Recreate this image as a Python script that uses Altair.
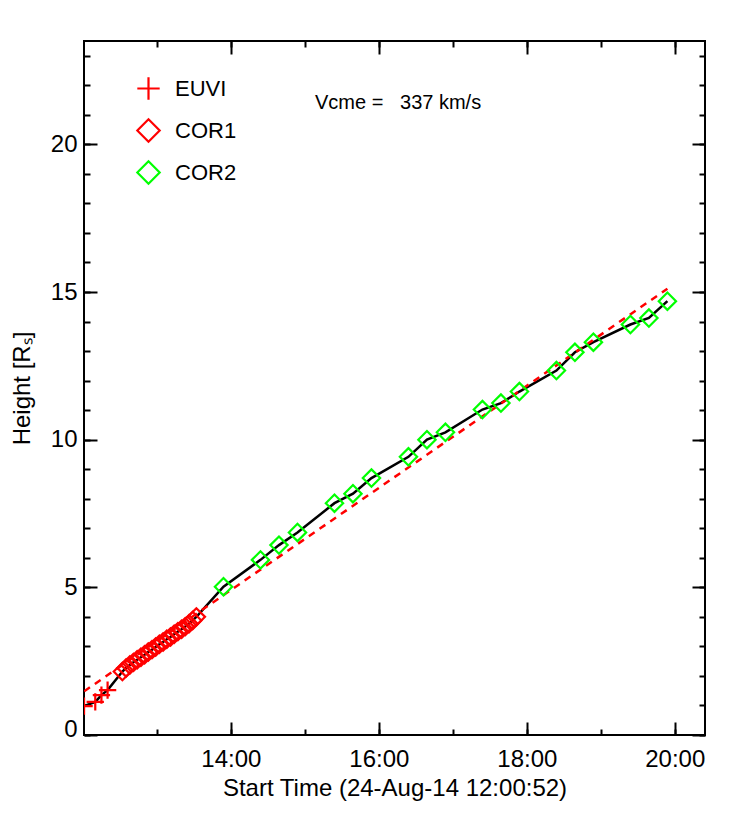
import altair as alt
import pandas as pd

FONT = "Liberation Sans"
DAY = "2014-08-24T"

# ---- data ----
euvi_time = ["12:00:55", "12:10:00", "12:15:00", "12:20:00"]
euvi_height = [0.98, 1.12, 1.35, 1.52]

cor1_time = ["12:32:00", "12:35:00", "12:38:00", "12:41:00", "12:44:00", "12:47:00",
             "12:50:00", "12:53:00", "12:56:00", "12:59:00", "13:02:00", "13:05:00",
             "13:08:00", "13:11:00", "13:14:00", "13:17:00", "13:20:00", "13:23:00",
             "13:26:00", "13:29:00", "13:32:00"]
cor1_height = [2.15, 2.27, 2.37, 2.46, 2.55, 2.63, 2.72, 2.81, 2.89, 2.98, 3.07,
               3.15, 3.24, 3.32, 3.41, 3.50, 3.58, 3.67, 3.77, 3.88, 4.00]

cor2_time = ["13:54:00", "14:24:00", "14:39:00", "14:54:00", "15:24:00", "15:39:00",
             "15:54:00", "16:24:00", "16:39:00", "16:54:00", "17:24:00", "17:39:00",
             "17:54:00", "18:24:00", "18:39:00", "18:54:00", "19:24:00", "19:39:00",
             "19:54:00"]
cor2_height = [5.02, 5.93, 6.43, 6.86, 7.85, 8.17, 8.70, 9.42, 10.00, 10.25, 11.02,
               11.24, 11.63, 12.34, 12.96, 13.30, 13.90, 14.12, 14.69]

fit_time = ["12:01:00", "19:54:00"]
fit_height = [1.48, 15.11]

instruments = ["EUVI", "COR1", "COR2"]
inst_colors = ["#ff0000", "#ff0000", "#00ff00"]
inst_shapes = ["M-1,0L1,0M0,-1L0,1", "diamond", "diamond"]

vcme_text = "Vcme =\u00a0\u00a0\u00a0337 km/s"
x_title = "Start Time (24-Aug-14 12:00:52)"
y_title = "Height [R\u209b]"

major_hours = [14, 16, 18, 20]
minor_hours = [13, 14, 15, 16, 17, 18, 19, 20]
major_heights = [0, 5, 10, 15, 20]
minor_heights = list(range(0, 24))

# ---- tables ----
rows = []
for name, ts, hs in [("EUVI", euvi_time, euvi_height),
                     ("COR1", cor1_time, cor1_height),
                     ("COR2", cor2_time, cor2_height)]:
    for t, h in zip(ts, hs):
        rows.append({"time": DAY + t, "height": h, "instrument": name})
points_df = pd.DataFrame(rows)
fit_df = pd.DataFrame({"time": [DAY + t for t in fit_time], "height": fit_height})


def dt(h, m=0, s=0):
    return alt.DateTime(year=2014, month=8, date=24, hours=h, minutes=m, seconds=s)


x_scale = alt.Scale(domain=[dt(12, 0, 52), dt(20, 24, 30)], nice=False)
y_scale = alt.Scale(domain=[0, 23.5], nice=False, zero=False)

common = dict(domain=False, grid=False, tickColor="black", tickWidth=2,
              labelColor="black", labelFont=FONT, titleFont=FONT,
              titleColor="black", titleFontWeight="normal")

MAJ, MIN = 13, 6

ax_x_bottom_major = alt.Axis(orient="bottom", values=[dt(h) for h in major_hours],
                             format="%H:%M", tickSize=MAJ, offset=-MAJ,
                             labelFontSize=24, labelPadding=12, labelFlush=False,
                             title=x_title, titleFontSize=24, titlePadding=5, **common)
ax_x_bottom_minor = alt.Axis(orient="bottom", values=[dt(h) for h in minor_hours],
                             tickSize=MIN, offset=-MIN, labels=False, title=None, **common)
ax_x_top_major = alt.Axis(orient="top", values=[dt(h) for h in major_hours],
                          tickSize=MAJ, offset=-MAJ, labels=False, title=None, **common)
ax_x_top_minor = alt.Axis(orient="top", values=[dt(h) for h in minor_hours],
                          tickSize=MIN, offset=-MIN, labels=False, title=None, **common)

ax_y_left_major = alt.Axis(orient="left", values=major_heights, tickSize=MAJ, offset=-MAJ,
                           labelFontSize=24, labelPadding=7, labelFlush=1,
                           labelFlushOffset=6,
                           title=y_title, titleFontSize=24, titlePadding=16, **common)
ax_y_left_minor = alt.Axis(orient="left", values=minor_heights, tickSize=MIN, offset=-MIN,
                           labels=False, title=None, **common)
ax_y_right_major = alt.Axis(orient="right", values=major_heights, tickSize=MAJ, offset=-MAJ,
                            labels=False, title=None, **common)
ax_y_right_minor = alt.Axis(orient="right", values=minor_heights, tickSize=MIN, offset=-MIN,
                            labels=False, title=None, **common)


def X(axis):
    return alt.X("time:T", scale=x_scale, axis=axis)


def Y(axis):
    return alt.Y("height:Q", scale=y_scale, axis=axis)


line = alt.Chart(points_df).mark_line(color="black", strokeWidth=2.5, clip=True).encode(
    x=X(ax_x_bottom_major), y=Y(ax_y_left_major), order="time:T")

fit = alt.Chart(fit_df).mark_line(color="#ff0000", strokeWidth=2.5, strokeDash=[7, 6],
                                  clip=True).encode(
    x=X(ax_x_bottom_minor), y=Y(ax_y_left_minor))

carrier = alt.Chart(fit_df).mark_line(opacity=0).encode(
    x=X(ax_x_top_minor), y=Y(ax_y_right_minor))

legend = alt.Legend(orient="none", legendX=52, legendY=35, direction="vertical",
                    title=None, symbolSize=500, symbolStrokeWidth=2.2,
                    labelFontSize=22, labelFont=FONT, labelColor="black",
                    labelOffset=14, rowPadding=9, padding=0)

points = alt.Chart(points_df).mark_point(filled=False, strokeWidth=2.2, size=300,
                                         opacity=1, clip=True).encode(
    x=X(ax_x_top_major), y=Y(ax_y_right_major),
    color=alt.Color("instrument:N", scale=alt.Scale(domain=instruments, range=inst_colors),
                    legend=legend),
    shape=alt.Shape("instrument:N", scale=alt.Scale(domain=instruments, range=inst_shapes),
                    legend=legend),
)

text = alt.Chart(alt.Data(values=[{"label": vcme_text}])).mark_text(
    align="left", baseline="middle", fontSize=20, font=FONT, color="black").encode(
    x=alt.value(231), y=alt.value(62), text="label:N")

chart = alt.layer(line, fit, carrier, points, text).resolve_axis(
    x="independent", y="independent"
).properties(
    width=621, height=694,
    autosize=alt.AutoSizeParams(type="none"),
    padding={"left": 76, "top": 33, "right": 37, "bottom": 76},
).configure(font=FONT).configure_view(stroke="black", strokeWidth=2)

chart.save("out.html", embed_options={"renderer": "svg", "actions": False})
